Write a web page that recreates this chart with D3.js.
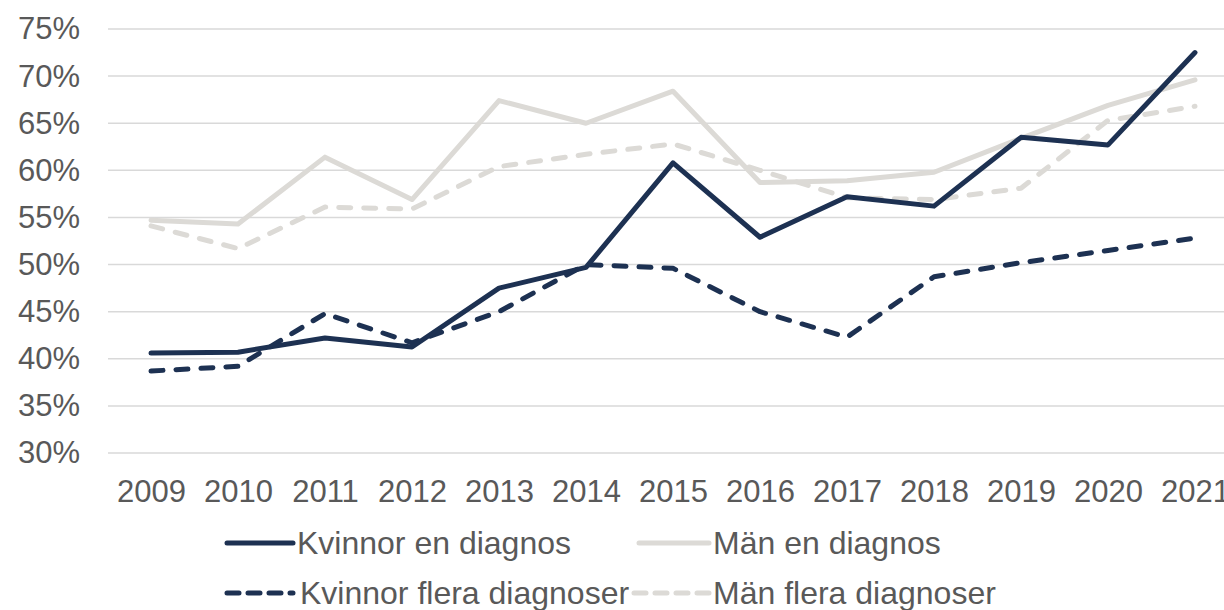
<!DOCTYPE html>
<html>
<head>
<meta charset="utf-8">
<script src="https://cdn.jsdelivr.net/npm/d3@7"></script>
<style>
  body { margin: 0; background: #fff; }
  text { font-family: "Liberation Sans", Arial, sans-serif; fill: #595959; }
</style>
</head>
<body>
<svg id="viewport"></svg>
<script>
const years = ["2009","2010","2011","2012","2013","2014","2015","2016","2017","2018","2019","2020","2021"];
const kvinnorEn = [40.6, 40.7, 42.2, 41.25, 47.5, 49.7, 60.8, 52.9, 57.2, 56.2, 63.5, 62.7, 72.5];
const manEn = [54.7, 54.3, 61.4, 56.9, 67.4, 65.0, 68.4, 58.7, 58.9, 59.8, 63.4, 66.9, 69.6];
const kvinnorFlera = [38.7, 39.2, 44.8, 41.7, 45.0, 50.0, 49.6, 45.0, 42.3, 48.7, 50.2, 51.5, 52.8];
const manFlera = [54.1, 51.7, 56.1, 55.9, 60.4, 61.7, 62.8, 60.0, 57.1, 56.9, 58.1, 65.3, 66.8];
const yTicks = [30, 35, 40, 45, 50, 55, 60, 65, 70, 75];

const series = [
  { name: "Kvinnor en diagnos", values: kvinnorEn, color: "#1d3152", dash: null },
  { name: "Män en diagnos", values: manEn, color: "#dcdad6", dash: null },
  { name: "Kvinnor flera diagnoser", values: kvinnorFlera, color: "#1d3152", dash: "12,13" },
  { name: "Män flera diagnoser", values: manFlera, color: "#dcdad6", dash: "12,13" },
];

const W = 1224, H = 610;
const svg = d3.select("#viewport").attr("width", W).attr("height", H);

const x = d3.scalePoint().domain(years).range([151, 1195]);
const y = d3.scaleLinear().domain([30, 75]).range([453, 29]);

// gridlines
svg.append("g")
  .selectAll("line")
  .data(yTicks)
  .enter()
  .append("line")
  .attr("x1", 108)
  .attr("x2", W)
  .attr("y1", (d) => y(d))
  .attr("y2", (d) => y(d))
  .attr("stroke", "#d9d9d9")
  .attr("stroke-width", 1.5);

// y axis labels
const yAxis = d3.axisLeft(y).tickValues(yTicks).tickSize(0).tickPadding(0)
  .tickFormat((d) => d + "%");
svg.append("g")
  .attr("transform", "translate(80,0)")
  .call(yAxis)
  .call((g) => g.select(".domain").remove())
  .selectAll("text")
  .attr("font-size", 31)
  .attr("font-family", null)
  .attr("fill", "#595959");

// x axis labels
const xAxis = d3.axisBottom(x).tickSize(0).tickPadding(0);
svg.append("g")
  .attr("transform", "translate(0,480)")
  .call(xAxis)
  .call((g) => g.select(".domain").remove())
  .selectAll("text")
  .attr("font-size", 31)
  .attr("font-family", null)
  .attr("fill", "#595959");

const line = d3.line()
  .x((d, i) => x(years[i]))
  .y((d) => y(d));

// draw lines (order so dark solid sits on top)
const drawOrder = [series[3], series[1], series[2], series[0]];
svg.append("g")
  .selectAll("path")
  .data(drawOrder)
  .enter()
  .append("path")
  .attr("d", (d) => line(d.values))
  .attr("fill", "none")
  .attr("stroke", (d) => d.color)
  .attr("stroke-width", 5)
  .attr("stroke-linecap", "round")
  .attr("stroke-linejoin", "round")
  .attr("stroke-dasharray", (d) => d.dash);

// legend
const legendPos = [
  { x1: 227, x2: 293, tx: 297, cy: 543 },
  { x1: 639, x2: 709, tx: 713, cy: 543 },
  { x1: 227, x2: 293, tx: 300, cy: 593 },
  { x1: 634, x2: 709, tx: 713, cy: 593 },
];
const legend = svg.append("g")
  .selectAll("g")
  .data(series)
  .enter()
  .append("g");
legend.append("line")
  .attr("x1", (d, i) => legendPos[i].x1)
  .attr("x2", (d, i) => legendPos[i].x2)
  .attr("y1", (d, i) => legendPos[i].cy)
  .attr("y2", (d, i) => legendPos[i].cy)
  .attr("stroke", (d) => d.color)
  .attr("stroke-width", 5)
  .attr("stroke-linecap", "round")
  .attr("stroke-dasharray", (d) => d.dash ? "12,9" : null);
legend.append("text")
  .attr("x", (d, i) => legendPos[i].tx)
  .attr("y", (d, i) => legendPos[i].cy)
  .attr("dy", "0.35em")
  .attr("font-size", 32)
  .text((d) => d.name);
</script>
</body>
</html>
